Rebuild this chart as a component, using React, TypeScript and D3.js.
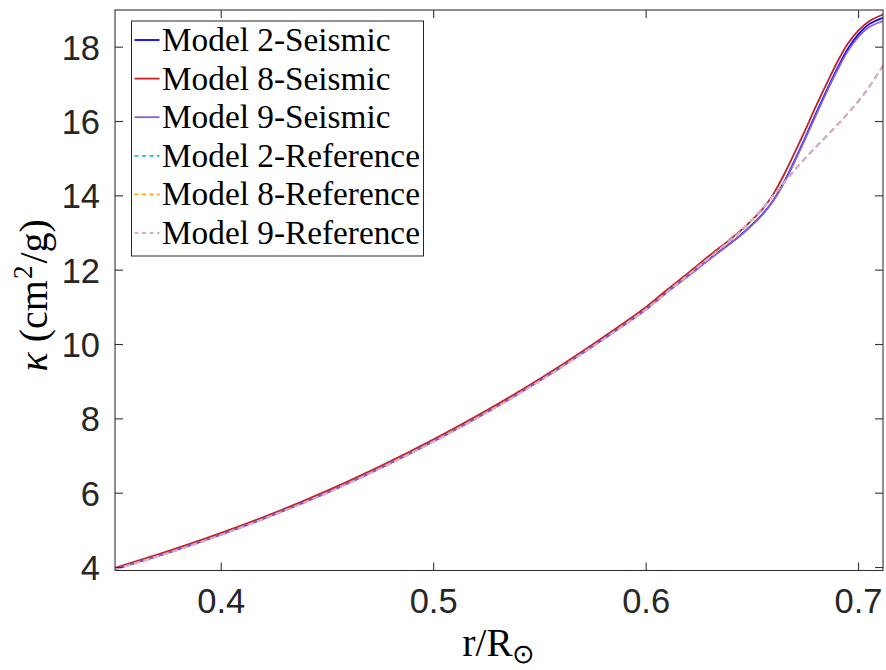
import React from "react";
import * as d3 from "d3";

const radius = [0.35, 0.375, 0.4, 0.425, 0.45, 0.475, 0.5, 0.525, 0.55, 0.575, 0.6, 0.61, 0.62, 0.63, 0.64, 0.645, 0.65, 0.655, 0.66, 0.665, 0.67, 0.675, 0.68, 0.685, 0.69, 0.695, 0.7, 0.705, 0.7115];

const model2Seismic = [3.96, 4.40, 4.89, 5.43, 6.02, 6.68, 7.40, 8.18, 9.03, 9.96, 10.95, 11.42, 11.86, 12.31, 12.74, 12.97, 13.23, 13.52, 13.89, 14.38, 14.96, 15.58, 16.22, 16.84, 17.43, 17.96, 18.35, 18.62, 18.79];
const model8Seismic = [3.99, 4.44, 4.93, 5.47, 6.07, 6.73, 7.45, 8.23, 9.08, 10.01, 11.01, 11.48, 11.93, 12.40, 12.85, 13.09, 13.36, 13.66, 14.06, 14.58, 15.17, 15.78, 16.42, 17.02, 17.60, 18.10, 18.45, 18.70, 18.88];
const model9Seismic = [3.96, 4.40, 4.89, 5.43, 6.02, 6.68, 7.40, 8.18, 9.03, 9.96, 10.95, 11.41, 11.85, 12.30, 12.73, 12.96, 13.22, 13.51, 13.88, 14.36, 14.93, 15.55, 16.18, 16.80, 17.38, 17.90, 18.28, 18.54, 18.70];
const model2Reference = [3.95, 4.39, 4.88, 5.42, 6.01, 6.67, 7.39, 8.17, 9.02, 9.95, 10.95, 11.42, 11.88, 12.35, 12.82, 13.07, 13.36, 13.68, 14.02, 14.36, 14.70, 15.02, 15.32, 15.61, 15.91, 16.22, 16.55, 16.93, 17.50];
const model8Reference = [3.95, 4.39, 4.88, 5.42, 6.01, 6.67, 7.39, 8.17, 9.02, 9.95, 10.95, 11.42, 11.88, 12.35, 12.82, 13.07, 13.36, 13.68, 14.02, 14.36, 14.70, 15.02, 15.32, 15.61, 15.91, 16.22, 16.56, 16.94, 17.51];
const model9Reference = [3.95, 4.39, 4.88, 5.42, 6.01, 6.67, 7.39, 8.17, 9.02, 9.95, 10.95, 11.42, 11.88, 12.35, 12.82, 13.07, 13.36, 13.68, 14.02, 14.36, 14.70, 15.02, 15.32, 15.61, 15.91, 16.22, 16.55, 16.93, 17.50];

const seriesNames = ["Model 2-Seismic", "Model 8-Seismic", "Model 9-Seismic", "Model 2-Reference", "Model 8-Reference", "Model 9-Reference"];
const seriesValues = [model2Seismic, model8Seismic, model9Seismic, model2Reference, model8Reference, model9Reference];
const seriesColors = ["#0000FF", "#C42222", "#8B5FD3", "#1EBEF0", "#FFA500", "#E2A6E0"];
const seriesDashed = [false, false, false, true, true, true];

const xTicks = [0.4, 0.5, 0.6, 0.7];
const yTicks = [4, 6, 8, 10, 12, 14, 16, 18];

const W = 886;
const H = 670;
const M = { left: 115, right: 883, top: 10, bottom: 570.5 };

export default function App() {
  const x = d3.scaleLinear().domain([0.35, 0.7115]).range([M.left, M.right]);
  const y = d3.scaleLinear().domain([3.92, 19.0]).range([M.bottom, M.top]);
  const line = d3
    .line<number>()
    .x((_, i) => x(radius[i]))
    .y((d) => y(d))
    .curve(d3.curveCatmullRom.alpha(0.5));

  const axisColor = "#333";
  const tickLen = 8;
  const tickFont = "'Liberation Sans', Arial, Helvetica, sans-serif";
  const serif = "'Liberation Serif', 'Times New Roman', serif";

  const legX = 131.5;
  const legY = 21;
  const legW = 292;
  const legH = 235;
  const rowH = 38.6;

  return (
    <svg width={W} height={H} style={{ position: "absolute", left: 0, top: 0, background: "#fff" }}>
      <defs>
        <clipPath id="plotClip">
          <rect x={M.left} y={M.top} width={M.right - M.left} height={M.bottom - M.top} />
        </clipPath>
      </defs>
      <rect x={0} y={0} width={W} height={H} fill="#fff" />

      {/* data lines */}
      <g clipPath="url(#plotClip)">
        {seriesValues.map((vals, k) => (
          <path
            key={seriesNames[k]}
            d={line(vals) || ""}
            fill="none"
            stroke={seriesColors[k]}
            strokeWidth={1.8}
            strokeDasharray={seriesDashed[k] ? "6,4" : undefined}
          />
        ))}
      </g>

      {/* box */}
      <rect
        x={M.left}
        y={M.top}
        width={M.right - M.left}
        height={M.bottom - M.top}
        fill="none"
        stroke={axisColor}
        strokeWidth={1.1}
      />

      {/* x ticks */}
      {xTicks.map((t) => (
        <g key={"x" + t}>
          <line x1={x(t)} x2={x(t)} y1={M.bottom} y2={M.bottom - tickLen} stroke={axisColor} strokeWidth={1.1} />
          <line x1={x(t)} x2={x(t)} y1={M.top} y2={M.top + tickLen} stroke={axisColor} strokeWidth={1.1} />
          <text x={x(t)} y={613} textAnchor="middle" fontFamily={tickFont} fontSize={34.5} fill="#262626">
            {t.toFixed(1)}
          </text>
        </g>
      ))}

      {/* y ticks */}
      {yTicks.map((t) => (
        <g key={"y" + t}>
          <line x1={M.left} x2={M.left + tickLen} y1={y(t)} y2={y(t)} stroke={axisColor} strokeWidth={1.1} />
          <line x1={M.right} x2={M.right - tickLen} y1={y(t)} y2={y(t)} stroke={axisColor} strokeWidth={1.1} />
          <text x={100} y={y(t) + 12.4} textAnchor="end" fontFamily={tickFont} fontSize={34.5} fill="#262626">
            {t}
          </text>
        </g>
      ))}

      {/* axis titles */}
      <text x={(M.left + M.right) / 2} y={656} textAnchor="middle" fontFamily={serif} fontSize={39} fill="#000">
        r/R
        <tspan fontSize={27} dy={7}>⊙</tspan>
      </text>
      <text
        transform={`translate(47, ${(M.top + M.bottom) / 2 + 5}) rotate(-90)`}
        textAnchor="middle"
        fontFamily={serif}
        fontSize={40}
        fill="#000"
      >
        <tspan fontStyle="italic">κ</tspan>
        <tspan dx={10}>(cm</tspan>
        <tspan fontSize={27} dy={-15} dx={1}>2</tspan>
        <tspan dy={15} dx={2}>/g)</tspan>
      </text>

      {/* legend */}
      <rect x={legX} y={legY} width={legW} height={legH} fill="#fff" stroke="#262626" strokeWidth={1} />
      {seriesNames.map((name, k) => {
        const cy = legY + 19 + k * rowH;
        return (
          <g key={"leg" + k}>
            <line
              x1={134.5}
              x2={159.5}
              y1={cy}
              y2={cy}
              stroke={seriesColors[k]}
              strokeWidth={1.8}
              strokeDasharray={seriesDashed[k] ? "4,3.5" : undefined}
            />
            <text x={162} y={cy + 11} fontFamily={serif} fontSize={33.3} fill="#000">
              {name}
            </text>
          </g>
        );
      })}
    </svg>
  );
}
